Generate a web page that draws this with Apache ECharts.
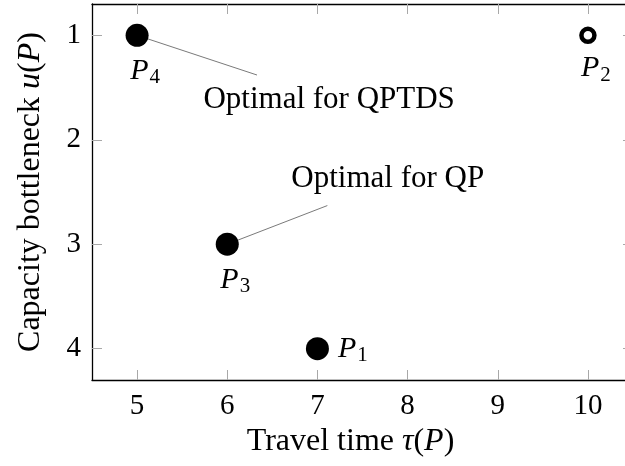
<!DOCTYPE html>
<html>
<head>
<meta charset="utf-8">
<script src="https://cdn.jsdelivr.net/npm/echarts@6/dist/echarts.min.js"></script>
<style>
  html, body { margin: 0; padding: 0; background: #fff; }
  #chart { width: 625px; height: 466px; }
</style>
</head>
<body>
<div id="chart"></div>
<script>
// paths: travel time vs capacity bottleneck
var pathNames = ['1', '2', '3', '4'];
var travelTime = [7, 10, 6, 5];
var bottleneck = [4, 1, 3, 1];
var hollow = [false, true, false, false];
var xTicks = [5, 6, 7, 8, 9, 10];
var yTicks = [1, 2, 3, 4];

// annotations: text anchor, pin end, pin start (data coords)
var noteText = ['Optimal for QPTDS', 'Optimal for QP'];
var noteAt = [[7.13, 1.62], [7.78, 2.37]];
var notePinEnd = [[6.33, 1.38], [7.11, 2.63]];
var notePinFrom = [[5, 1], [6, 3]];

var FONT = '"Liberation Serif", "DejaVu Serif", serif';
var labelSide = { '1': 'right', '2': 'bottom', '3': 'bottom', '4': 'bottom' };

var chart = echarts.init(document.getElementById('chart'));

var points = pathNames.map(function (n, i) {
    var side = labelSide[n];
    var item = {
        value: [travelTime[i], bottleneck[i]],
        name: n,
        label: { position: side, offset: side === 'bottom' ? [8, 0] : [0, 0] }
    };
    if (hollow[i]) {
        item.symbolSize = 13;
        item.itemStyle = { color: '#fff', borderColor: '#000', borderWidth: 4.5, opacity: 1 };
    }
    return item;
});

var pins = noteText.map(function (t, i) {
    return { coords: [notePinFrom[i], notePinEnd[i]] };
});

var notes = noteText.map(function (t, i) {
    return { value: noteAt[i], name: t };
});

var lineStyle = { show: true, onZero: false, lineStyle: { color: '#000', width: 1.3 } };
function ticks(vals) {
    return { show: true, inside: true, length: 10, customValues: vals,
             lineStyle: { color: '#a8a8a8', width: 1 } };
}
var nameRich = { i: { fontFamily: FONT, fontSize: 32, fontStyle: 'italic', color: '#000' } };

var option = {
    backgroundColor: '#fff',
    animation: false,
    grid: { left: 92, right: -8, top: 4, bottom: 86, outerBoundsMode: 'none', containLabel: false },
    xAxis: [{
        type: 'value', min: 4.5, max: 10.5,
        position: 'bottom',
        axisLine: lineStyle, axisTick: ticks(xTicks),
        splitLine: { show: false },
        axisLabel: {
            margin: 12, fontFamily: FONT, fontSize: 29, color: '#000',
            customValues: xTicks
        },
        name: 'Travel time {i|τ}({i|P})',
        nameLocation: 'middle', nameGap: 46,
        nameTextStyle: {
            fontFamily: FONT, fontSize: 32, color: '#000', padding: [0, 24, 0, 0],
            rich: nameRich
        }
    }, {
        type: 'value', min: 4.5, max: 10.5,
        position: 'top',
        axisLine: lineStyle, axisTick: ticks(xTicks),
        splitLine: { show: false }, axisLabel: { show: false }
    }],
    yAxis: [{
        type: 'value', min: 0.7, max: 4.3, inverse: true,
        position: 'left',
        axisLine: lineStyle, axisTick: ticks(yTicks),
        splitLine: { show: false },
        axisLabel: {
            margin: 11, fontFamily: FONT, fontSize: 29, color: '#000',
            customValues: yTicks
        },
        name: 'Capacity bottleneck {i|u}({i|P})',
        nameLocation: 'middle', nameGap: 45,
        nameTextStyle: {
            fontFamily: FONT, fontSize: 32, color: '#000',
            rich: nameRich
        }
    }, {
        type: 'value', min: 0.7, max: 4.3, inverse: true,
        position: 'right',
        axisLine: lineStyle, axisTick: ticks(yTicks),
        splitLine: { show: false }, axisLabel: { show: false }
    }],
    series: [{
        type: 'lines',
        coordinateSystem: 'cartesian2d',
        z: 1,
        lineStyle: { color: '#7a7a7a', width: 1, opacity: 1 },
        data: pins
    }, {
        type: 'scatter',
        z: 3,
        symbol: 'circle',
        symbolSize: 23,
        itemStyle: { color: '#000', opacity: 1 },
        label: {
            show: true,
            distance: 9,
            formatter: function (p) { return '{p|P}{s|' + p.name + '}'; },
            rich: {
                p: { fontFamily: FONT, fontSize: 30, fontStyle: 'italic', color: '#000', lineHeight: 30 },
                s: { fontFamily: FONT, fontSize: 21, color: '#000', lineHeight: 30, padding: [14, 0, 0, 1] }
            }
        },
        data: points
    }, {
        type: 'scatter',
        z: 4,
        symbolSize: 0,
        itemStyle: { opacity: 1 },
        label: {
            show: true, position: 'inside',
            fontFamily: FONT, fontSize: 31, color: '#000',
            formatter: function (p) { return p.name; }
        },
        data: notes
    }]
};

chart.setOption(option);
</script>
</body>
</html>
